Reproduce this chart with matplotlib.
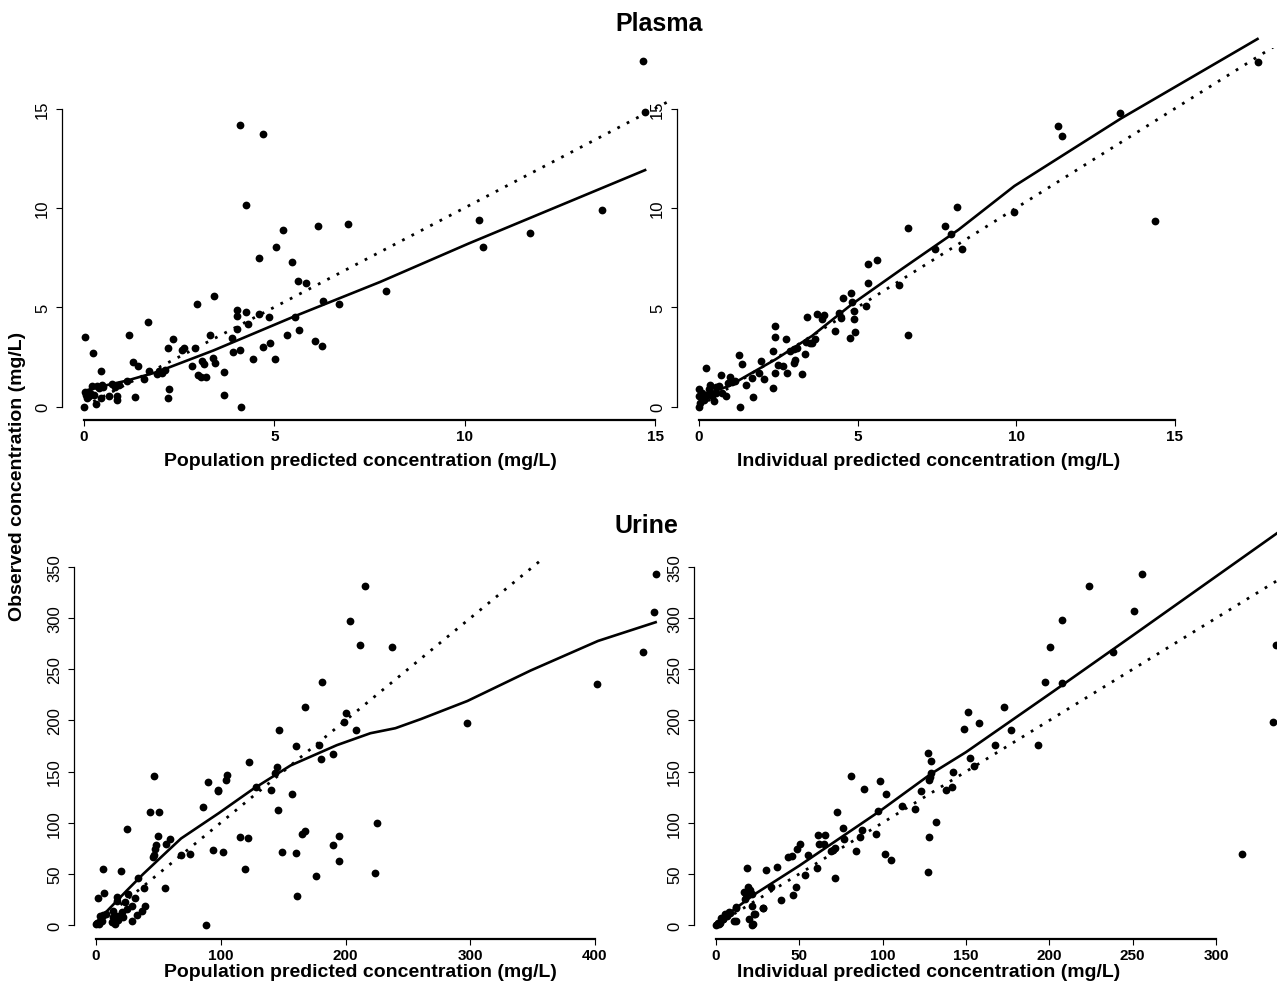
import matplotlib
matplotlib.use('Agg')
import matplotlib.pyplot as plt

plt.rcParams['font.family'] = ['Liberation Sans', 'DejaVu Sans']

# ---- Plasma: population prediction (PRED) vs observed (DV)
plasma_pred = [0.0, 0.03, 0.09, 0.16, 0.25, 0.32, 0.33, 0.48, 0.45, 0.66, 0.73, 0.81, 0.88, 0.88, 0.91, 1.13, 1.33,
               0.05, 0.12, 0.2, 0.4, 0.5,
               0.03, 0.24, 1.18, 1.69, 2.96, 3.42, 5.62, 5.84, 6.27, 6.70,
               0.44, 1.28, 1.41, 1.72, 1.58, 1.91, 1.98, 2.04, 2.14,
               2.35, 2.20, 2.57, 2.63, 2.91, 2.23, 2.21, 2.83, 3.10, 3.15, 3.0, 3.08, 3.2, 3.30, 3.40, 3.45,
               3.67, 3.67, 4.13, 3.88, 3.91, 4.11, 4.01, 4.01, 4.26, 4.02, 4.30, 4.59, 4.86, 4.45, 4.70, 4.89,
               5.02, 5.33, 5.53, 5.64, 6.08, 6.25,
               4.10, 4.70, 4.26, 5.23, 5.04, 4.60, 5.46, 6.15, 6.93, 7.93, 10.38, 10.48, 11.72, 13.6, 14.74, 14.68]
plasma_dv_pred = [0.0, 0.72, 0.45, 0.66, 0.56, 0.15, 1.04, 1.09, 0.45, 0.51, 1.13, 0.99, 0.52, 0.35, 1.08, 1.28, 0.47,
                  0.6, 0.55, 1.05, 0.95, 1.0,
                  3.52, 2.69, 3.62, 4.24, 5.17, 5.56, 6.31, 6.2, 5.3, 5.14,
                  1.80, 2.26, 2.02, 1.78, 1.40, 1.65, 1.78, 1.67, 1.83,
                  3.42, 2.93, 2.86, 2.95, 2.93, 0.86, 0.42, 2.05, 2.31, 2.16, 1.58, 1.48, 1.48, 3.59, 2.46, 2.19,
                  1.73, 0.59, 0.0, 3.47, 2.74, 2.84, 4.88, 4.55, 4.75, 3.89, 4.17, 4.68, 4.48, 2.37, 3.01, 3.18,
                  2.39, 3.60, 4.48, 3.84, 3.28, 3.05,
                  14.19, 13.7, 10.15, 8.89, 8.03, 7.5, 7.27, 9.09, 9.19, 5.81, 9.39, 8.03, 8.74, 9.9, 14.8, 17.4]
plasma_pred_smooth_x = [0.05, 0.24, 1.12, 1.91, 3.4, 5.53, 7.78, 10.1, 14.74]
plasma_pred_smooth_y = [0.8, 0.92, 1.3, 1.73, 2.82, 4.54, 6.27, 8.2, 11.9]

# ---- Plasma: individual prediction (IPRED) vs observed
plasma_ipred = [0.0, 1.29, 0.21, 0.68, 1.27, 1.35, 0.98, 1.70, 1.48, 1.67, 1.94, 1.89, 2.05, 2.34, 2.38, 2.40, 2.73,
                2.34, 2.38, 2.48, 2.76, 2.64, 2.88, 2.99, 3.09, 3.04, 2.99, 3.24, 3.35, 3.37, 3.51, 3.56, 3.67,
                3.39, 3.72, 3.88, 3.93, 4.28, 4.40, 4.49, 4.55, 4.79, 4.87, 4.89, 4.93, 4.77, 5.25, 5.34, 6.31,
                6.6, 4.82,
                0.0, 0.0, 0.1, 0.16, 0.31, 0.42, 0.52, 0.63, 0.73, 0.84, 0.47, 0.02, 0.25, 0.55, 0.35, 0.9, 1.05, 1.15,
                5.31, 5.6, 6.58, 7.43, 7.75, 7.93, 8.13, 8.30, 9.92, 11.3, 11.43, 13.28, 14.38, 17.6]
plasma_dv_ipred = [0.0, 0.0, 1.92, 1.57, 2.58, 2.14, 1.5, 0.49, 1.06, 1.45, 2.29, 1.70, 1.36, 0.91, 4.06, 3.52, 3.42,
                   2.79, 1.67, 2.07, 1.70, 2.04, 2.78, 2.88, 2.96, 2.34, 2.21, 1.62, 2.63, 3.25, 3.22, 3.18, 3.38,
                   4.48, 4.68, 4.39, 4.6, 3.80, 4.73, 4.46, 5.44, 5.71, 4.81, 4.39, 3.75, 3.47, 5.07, 6.21, 6.11,
                   3.6, 5.24,
                   0.86, 0.52, 0.69, 0.35, 0.86, 0.52, 0.99, 1.03, 0.69, 0.52, 0.27, 0.19, 0.6, 0.7, 1.1, 1.2, 1.25, 1.3,
                   7.17, 7.37, 8.97, 7.93, 9.09, 8.70, 10.05, 7.93, 9.81, 14.13, 13.6, 14.75, 9.34, 17.34]
plasma_ipred_smooth_x = [0.0, 0.94, 2.41, 3.56, 4.82, 6.39, 8.18, 9.94, 13.3, 17.6]
plasma_ipred_smooth_y = [0.5, 1.03, 2.37, 3.55, 5.15, 6.92, 8.9, 11.1, 14.5, 18.5]

# ---- Urine: PRED vs observed
urine_pred = [216, 203.9, 211.3, 237.6, 181.3, 167.8, 200.2, 198.8, 208.3, 146.5, 160.3, 178.9, 180.3, 190,
              122.5, 145.1, 143.1, 128.3, 140.1, 157.3, 145.5, 225.5, 195.1, 190, 195.1, 223.8, 297, 401.7,
              438.2, 446.9, 448.6,
              46.6, 43.2, 50.6, 25, 85.4, 90.1, 97.6, 97.9, 104, 105.3, 115.8, 121.5, 119.2, 93.5, 101.6, 67.8,
              75.3, 55.7, 59.4, 56, 50, 48, 47.6, 46.6, 45.6, 149.2, 160, 165, 167.8, 176.5, 161, 88.1, 20.3,
              5.7, 6.8, 1.4, 33.4, 38.5,
              16.6, 23.3, 25.9, 31.3, 24.6, 28.6, 32.6, 29.1, 39.3, 36.6, 0, 3.2, 4.6, 12.6, 13.9, 16.6, 19.2,
              15.2, 20.6, 1, 2.5, 6, 8, 17, 18, 22, 14]
urine_dv_pred = [331.8, 297.6, 273.7, 271.4, 237.2, 212.7, 207.4, 198.4, 190.4, 191.1, 175.2, 175.8, 162.2, 167.5,
                 159.3, 154.6, 148.6, 134.7, 132, 127.7, 112.5, 100.2, 87.3, 78.6, 63, 51.1, 197.1, 235.9,
                 266.8, 306.2, 343.4,
                 145.3, 110.8, 110.2, 94.2, 115.8, 140, 132.4, 130.7, 141.7, 147, 85.9, 85.3, 54.7, 73, 71.3, 68,
                 69, 35.8, 83.6, 79.6, 86.6, 78.6, 74.6, 68, 66, 71.7, 70, 88.6, 91.9, 47.8, 28.5, 0, 53.1,
                 55.1, 31.2, 26.2, 46.1, 36.2,
                 23.8, 22.2, 30.4, 26.1, 15.7, 19, 9.8, 4.2, 19, 14, 1, 9.1, 4.2, 2.6, 7.5, 9.1, 9.1,
                 1, 12.4, 2, 0.5, 10, 11, 27, 5, 8, 14]
urine_pred_smooth_x = [0.7, 24.3, 37.8, 58, 68.2, 98.6, 125.6, 156, 193, 220, 240, 260.6, 297.7, 348.4, 402.4, 448.6]
urine_pred_smooth_y = [3.3, 33.2, 49.8, 73, 84.6, 109.5, 132.7, 156, 175.8, 187.5, 192.4, 201.4, 219, 248.8, 277.7, 296]

# ---- Urine: IPRED vs observed
urine_ipred = [255.8, 224, 250.6, 207.9, 200.6, 238.1, 197.7, 207.4, 172.9, 151.2, 149.1, 158, 177.2, 167.7, 193.2,
               127.1, 128.8, 152.6, 155, 128.8, 128.3, 127.6, 142.5, 141.7, 138, 123.3, 80.8, 98.7, 89.1, 102,
               111.9, 119.5, 97.3, 72.5, 132.1, 127.8, 127.1, 96.1, 87.9, 86.2, 83.9, 101.3, 105.1, 315.4, 334.3,
               335.9,
               76.5, 77, 71.6, 70.4, 69.2, 71.6, 61.4, 61.9, 64.7, 65.4, 60.9, 55, 50.3, 48.9, 45.6, 43, 53.6, 48,
               46.3, 36.9, 29.8, 33.1, 39.2, 28.1, 18.9,
               17, 18.2, 20.6, 19.4, 21.7, 17.7, 21.7, 22.9, 20.1, 21.7,
               12.3, 11.1, 7.6, 5.2, 2.8, 1.2, 4, 6.4, 0, 1.7, 2.4, 4.4, 8.4, 12, 11.8, 22, 23.4, 28.4]
urine_dv_ipred = [343.4, 331.8, 306.6, 297.7, 271.5, 266.9, 237.7, 236.4, 213.2, 207.9, 191.7, 197.4, 190.7, 175.5,
                  176.2, 168.2, 159.9, 162.9, 155, 148.7, 144.7, 141.4, 149.3, 135.4, 132.1, 130.8, 146, 141.1,
                  132.5, 128.5, 116.6, 113.2, 111.6, 110.9, 101, 86.4, 51.7, 89.1, 92.7, 86.1, 72.2, 69.5, 63.9,
                  69.5, 198.7, 273.8,
                  95, 84.1, 75.2, 73.8, 71.9, 46.4, 87.7, 79.5, 79.1, 87.7, 55.6, 68.9, 78.8, 74.2, 67.9, 66.9,
                  48.7, 36.8, 29.1, 56.3, 53.3, 36.8, 24.5, 16.6, 55.3,
                  32.1, 30.5, 33.8, 37.1, 30.5, 25.5, 18.9, 10.6, 5.6, 0,
                  17.2, 4, 12.3, 10.6, 7.3, 2.3, 5.6, 9, 0, 1.3, 2, 5.9, 11.8, 16.7, 4.2, 0.7, 10.8, 16.4]
urine_ipred_smooth_x = [0, 1.7, 22.9, 50, 98.5, 129.2, 150, 202.5, 250, 336.6]
urine_ipred_smooth_y = [2, 4, 29.8, 58, 111.6, 148, 169, 228.5, 283, 383]

plasma_ticks = [0, 5, 10, 15]
urine_ticks_y = [0, 50, 100, 150, 200, 250, 300, 350]
urine_ticks_pred = [0, 100, 200, 300, 400]
urine_ticks_ipred = [0, 50, 100, 150, 200, 250, 300]

xlab_pred = 'Population predicted concentration (mg/L)'
xlab_ipred = 'Individual predicted concentration (mg/L)'

W, H = 1277, 987
fig = plt.figure(figsize=(W / 100, H / 100), dpi=100)


def r_range(v):
    lo, hi = min(v), max(v)
    pad = 0.04 * (hi - lo)
    return lo - pad, hi + pad


def panel(x, y, sx, sy, xt, yt, xanchor, yanchor, xlab, xlab_pos):
    xlim, ylim = r_range(x), r_range(y)
    (v0, p0), (v1, p1) = xanchor
    s = (p1 - p0) / (v1 - v0)
    left = p0 + (xlim[0] - v0) * s
    right = p0 + (xlim[1] - v0) * s
    (w0, q0), (w1, q1) = yanchor
    t = (q1 - q0) / (w1 - w0)
    bottom = q0 + (ylim[0] - w0) * t
    top = q0 + (ylim[1] - w0) * t
    ax = fig.add_axes([left / W, 1 - bottom / H, (right - left) / W, (bottom - top) / H])
    ax.set_facecolor('none')
    ax.set_xlim(xlim)
    ax.set_ylim(ylim)

    ax.plot(x, y, 'o', color='black', markersize=5.6, markeredgewidth=0)
    # line of identity, from the origin, clipped by the plot region
    hi = max(xlim[1], ylim[1])
    ax.plot([0, hi], [0, hi], color='black', lw=2.0, linestyle=(0, (1, 2.8)))
    # smooth is drawn over its full range (not clipped)
    ax.plot(sx, sy, color='black', lw=1.9, clip_on=False)

    for side in ['top', 'right']:
        ax.spines[side].set_visible(False)
    ax.spines['bottom'].set_bounds(xt[0], xt[-1])
    ax.spines['bottom'].set_linewidth(1.6)
    ax.spines['left'].set_bounds(yt[0], yt[-1])
    ax.spines['left'].set_linewidth(0.9)
    ax.set_xticks(xt, labels=[str(v) for v in xt], fontweight='bold')
    ax.set_yticks(yt, labels=[str(v) for v in yt])
    ax.tick_params(axis='both', length=4.3, width=0.8)
    ax.tick_params(axis='x', labelsize=11, pad=2)
    ax.tick_params(axis='y', labelsize=12, pad=4)
    for lab in ax.get_yticklabels():
        lab.set_rotation(90)
        lab.set_va('center')
    fig.text(xlab_pos[0] / W, 1 - xlab_pos[1] / H, xlab, ha='center', va='center',
             fontsize=14, fontweight='bold')
    return ax


panel(plasma_pred, plasma_dv_pred, plasma_pred_smooth_x, plasma_pred_smooth_y,
      plasma_ticks, plasma_ticks, [(0, 84), (15, 655)], [(0, 407.5), (15, 109.5)],
      xlab_pred, (360, 461))
panel(plasma_ipred, plasma_dv_ipred, plasma_ipred_smooth_x, plasma_ipred_smooth_y,
      plasma_ticks, plasma_ticks, [(0, 699), (15, 1175)], [(0, 407.5), (15, 109.5)],
      xlab_ipred, (929, 461))
panel(urine_pred, urine_dv_pred, urine_pred_smooth_x, urine_pred_smooth_y,
      urine_ticks_pred, urine_ticks_y, [(0, 96), (400, 595)], [(0, 926), (350, 568)],
      xlab_pred, (360, 973))
panel(urine_ipred, urine_dv_ipred, urine_ipred_smooth_x, urine_ipred_smooth_y,
      urine_ticks_ipred, urine_ticks_y, [(0, 716), (300, 1216)], [(0, 926), (350, 568)],
      xlab_ipred, (929, 973))

fig.text(659 / W, 1 - 24 / H, 'Plasma', ha='center', va='center', fontsize=18, fontweight='bold')
fig.text(646.5 / W, 1 - 526 / H, 'Urine', ha='center', va='center', fontsize=18, fontweight='bold')
fig.text(18 / W, 1 - 476 / H, 'Observed concentration (mg/L)', ha='center', va='center',
         rotation=90, fontsize=14, fontweight='bold')

fig.savefig('out.png', dpi=100)
